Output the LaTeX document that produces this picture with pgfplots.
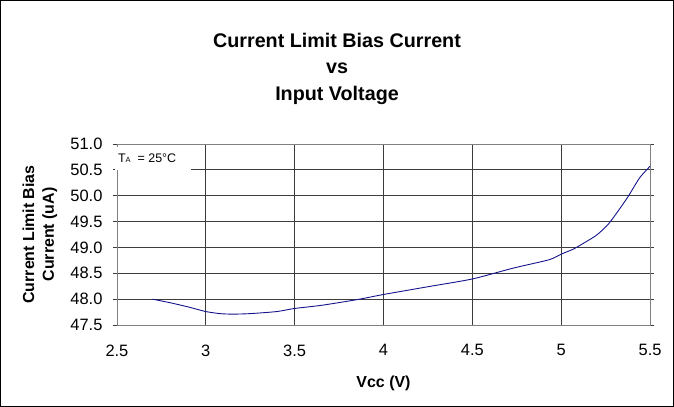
\documentclass[border=0pt]{standalone}
\usepackage{pgfplots}
\pgfplotsset{compat=1.18}
\usepackage{fontspec}
\setmainfont{Liberation Sans}
\definecolor{curve}{RGB}{20,20,140}
\definecolor{gridc}{RGB}{60,60,60}
\begin{document}
\begin{tikzpicture}[x=1bp,y=1bp]
\draw[black, line width=0.8bp] (0.5,0.5) rectangle (673.5,406.5);
\node[font=\fontsize{19.8}{27}\selectfont\bfseries, align=center] at (337,338) {Current Limit Bias Current\\vs\\Input Voltage};
\begin{axis}[
  at={(117bp,82bp)}, anchor=south west,
  scale only axis, width=533bp, height=181bp,
  xmin=2.5, xmax=5.5, ymin=47.5, ymax=51,
  xtick={2.5,3,...,5.5}, ytick={47.5,48,...,51},
  grid=major,
  major grid style={gridc, line width=0.8bp},
  axis line style={gray, line width=0.8bp},
  tick align=outside, major tick length=4bp,
  xtick style={draw=none},
  ytick style={gridc, line width=0.8bp},
  /pgf/number format/assume math mode=true,
  tick label style={font=\fontsize{16.5}{18}\selectfont},
  yticklabel style={/pgf/number format/.cd, fixed, fixed zerofill, precision=1, /tikz/.cd, xshift=-7bp},
  xticklabel style={/pgf/number format/.cd, fixed, precision=1, /tikz/.cd, yshift=-12bp},
  xlabel={Vcc (V)},
  xlabel style={font=\fontsize{16}{18}\selectfont\bfseries, at={(axis description cs:0.5,-0.32)}, anchor=center},
  ylabel={Current Limit Bias\\Current (uA)},
  ylabel style={font=\fontsize{16}{20}\selectfont\bfseries, align=center, at={(axis description cs:-0.1445,0.5)}, anchor=center},
]
\addplot[curve, line width=0.9bp, smooth, tension=0.4] coordinates {
(2.70,48.00) (2.80,47.93) (2.90,47.85) (3.00,47.76) (3.08,47.72) (3.15,47.71)
(3.25,47.72) (3.40,47.76) (3.50,47.82) (3.65,47.88) (3.85,47.99)
(4.00,48.09) (4.25,48.24) (4.50,48.39) (4.73,48.60) (4.93,48.76)
(5.00,48.87) (5.07,48.97) (5.13,49.09) (5.20,49.24) (5.27,49.47)
(5.37,49.95) (5.44,50.34) (5.50,50.57)
};
\end{axis}
\fill[white] (115,236.5) rectangle (191,260);
\node[anchor=west, font=\fontsize{12.5}{14}\selectfont, inner sep=0pt] at (118,249) {T{\fontsize{7.5}{8}\selectfont A}\ \ = 25°C};
\end{tikzpicture}
\end{document}
